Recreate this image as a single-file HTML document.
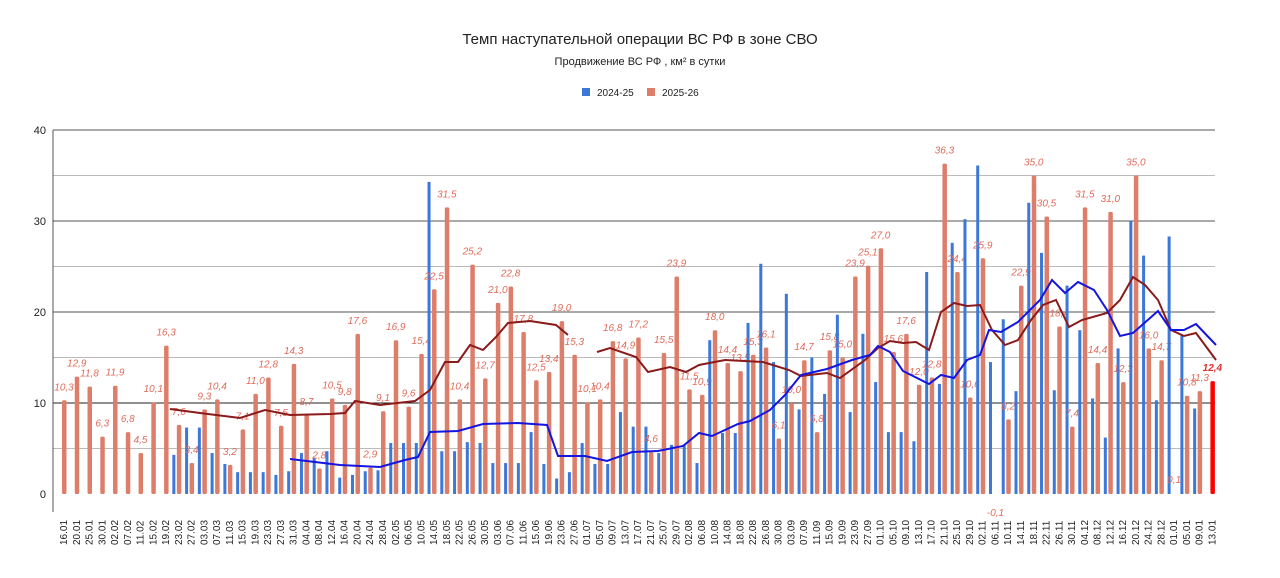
<!DOCTYPE html><html><head><meta charset="utf-8"><style>body{margin:0;background:#fff;width:1280px;height:573px;overflow:hidden;font-family:"Liberation Sans",sans-serif}</style></head><body>
<svg id="s" width="1280" height="573" xmlns="http://www.w3.org/2000/svg" font-family="Liberation Sans, sans-serif">
<text x="640" y="44" text-anchor="middle" font-size="15" fill="#222">Темп наступательной операции ВС РФ в зоне СВО</text>
<text x="640" y="65" text-anchor="middle" font-size="11" fill="#222">Продвижение ВС РФ , км² в сутки</text>
<rect x="582" y="88" width="8" height="8" fill="#3c78d8"/><text x="597" y="96" font-size="10" fill="#222">2024-25</text>
<rect x="647" y="88" width="8" height="8" fill="#dd7e6b"/><text x="662" y="96" font-size="10" fill="#222">2025-26</text>
</svg>
<script>
var s=document.getElementById('s'),NS='http://www.w3.org/2000/svg';
function el(t,a,txt){var e=document.createElementNS(NS,t);for(var k in a)e.setAttribute(k,a[k]);if(txt!=null)e.textContent=txt;s.appendChild(e);return e;}
function Y(v){return 494-v*9.1;}
[5,15,25,35].forEach(function(v){el('line',{x1:53,x2:1215,y1:Y(v),y2:Y(v),stroke:'#bbb','stroke-width':1});});
[10,20,30,40].forEach(function(v){el('line',{x1:53,x2:1215,y1:Y(v),y2:Y(v),stroke:v==10?'#222':'#555','stroke-width':1});
 el('text',{x:46,y:Y(v)+4,'text-anchor':'end','font-size':11,fill:'#222'},String(v));});
el('text',{x:46,y:498,'text-anchor':'end','font-size':11,fill:'#222'},'0');
el('line',{x1:53,x2:53,y1:130,y2:512,stroke:'#555'});
var labs="16.01 20.01 25.01 30.01 02.02 07.02 11.02 15.02 19.02 23.02 27.02 03.03 07.03 11.03 15.03 19.03 23.03 27.03 31.03 04.04 08.04 12.04 16.04 20.04 24.04 28.04 02.05 06.05 10.05 14.05 18.05 22.05 26.05 30.05 03.06 07.06 11.06 15.06 19.06 23.06 27.06 01.07 05.07 09.07 13.07 17.07 21.07 25.07 29.07 02.08 06.08 10.08 14.08 18.08 22.08 26.08 30.08 03.09 07.09 11.09 15.09 19.09 23.09 27.09 01.10 05.10 09.10 13.10 17.10 21.10 25.10 29.10 02.11 06.11 10.11 14.11 18.11 22.11 26.11 30.11 04.12 08.12 12.12 16.12 20.12 24.12 28.12 01.01 05.01 09.01 13.01".split(' ');
var o=[10.3,12.9,11.8,6.3,11.9,6.8,4.5,10.1,16.3,7.6,3.4,9.3,10.4,3.2,7.1,11.0,12.8,7.5,14.3,8.7,2.8,10.5,9.8,17.6,2.9,9.1,16.9,9.6,15.4,22.5,31.5,10.4,25.2,12.7,21.0,22.8,17.8,12.5,13.4,19.0,15.3,10.1,10.4,16.8,14.9,17.2,4.6,15.5,23.9,11.5,10.9,18.0,14.4,13.5,15.3,16.1,6.1,10.0,14.7,6.8,15.8,15.0,23.9,25.1,27.0,15.6,17.6,12.0,12.8,36.3,24.4,10.6,25.9,-0.1,8.2,22.9,35.0,30.5,18.4,7.4,31.5,14.4,31.0,12.3,35.0,16.0,14.7,0.1,10.8,11.3,12.4];
var b=[0,0,0,0,0,0,0,0,0,4.3,7.3,7.3,4.5,3.3,2.4,2.4,2.4,2.1,2.5,4.5,4.0,4.7,1.8,2.1,2.5,2.6,5.6,5.6,5.6,34.3,4.7,4.7,5.7,5.6,3.4,3.4,3.4,6.8,3.3,1.7,2.4,5.6,3.3,3.3,9.0,7.4,7.4,4.5,5.4,5.4,3.4,16.9,6.7,6.7,18.8,25.3,14.5,22.0,9.3,15.0,11.0,19.7,9.0,17.6,12.3,6.8,6.8,5.8,24.4,12.1,27.6,30.2,36.1,14.5,19.2,11.3,32.0,26.5,11.4,22.9,18.0,10.5,6.2,16.0,30.0,26.2,10.3,28.3,17.5,9.4];
function X(i){return 63+i*12.76;}
for(var i=0;i<91;i++){var x=X(i);
 el('text',{transform:'translate('+(x+4)+',545) rotate(-90)','font-size':10,fill:'#222'},labs[i]);
 if(b[i]>0)el('rect',{x:x-5.5,y:Y(b[i]),width:3,height:b[i]*9.1,fill:'#3c78d8'});
 var v=o[i];if(v>0.2){el('rect',{x:x-1,y:Y(v),width:4.5,height:v*9.1,rx:1.5,fill:i==90?'#ff0000':'#dd7e6b'});}
 var ly=v<0?Y(-2.4):Y(Math.max(v,0))-10;
 el('text',{x:x+1,y:ly,'text-anchor':'middle','font-size':10,'font-style':'italic','font-weight':i==90?'bold':'normal',fill:i==90?'#e03030':'#e06b5a'},v.toFixed(1).replace('.',','));
}
function pl(pts,c){el('polyline',{points:pts.map(function(p){return p.join(',')}).join(' '),fill:'none',stroke:c,'stroke-width':2});}
pl([[170,409],[200,413],[240,418],[265,410],[290,415],[330,414],[345,413],[355,401],[380,405],[415,401],[430,390],[445,362],[458,362],[470,345],[483,350],[496,337],[508,323],[530,321],[556,325],[568,335]],'#8b1a1a');
pl([[597,352],[610,348],[636,357],[648,372],[670,367],[686,372],[699,365],[725,360],[763,362],[789,370],[801,376],[827,373],[840,378],[865,360],[878,348],[890,341],[903,343],[916,342],[929,350],[941,312],[954,303],[967,306],[980,305],[992,330],[1005,345],[1018,340],[1031,320],[1043,305],[1056,300],[1069,327],[1082,320],[1107,313],[1120,300],[1133,277],[1145,285],[1158,300],[1171,330],[1184,336],[1196,333],[1216,360]],'#8b1a1a');
pl([[290,459],[340,465],[380,467],[405,460],[418,457],[430,432],[458,431],[483,424],[518,423],[547,425],[558,456],[585,456],[607,461],[632,452],[658,451],[683,446],[699,433],[712,436],[738,424],[750,421],[770,410],[785,395],[801,375],[827,369],[852,360],[870,355],[878,346],[890,352],[903,371],[929,384],[941,375],[954,378],[967,360],[980,355],[989,330],[1001,332],[1018,322],[1040,300],[1052,280],[1065,293],[1078,282],[1094,290],[1107,310],[1120,336],[1133,333],[1158,311],[1171,330],[1184,330],[1196,324],[1216,345]],'#1515e0');
</script></body></html>
